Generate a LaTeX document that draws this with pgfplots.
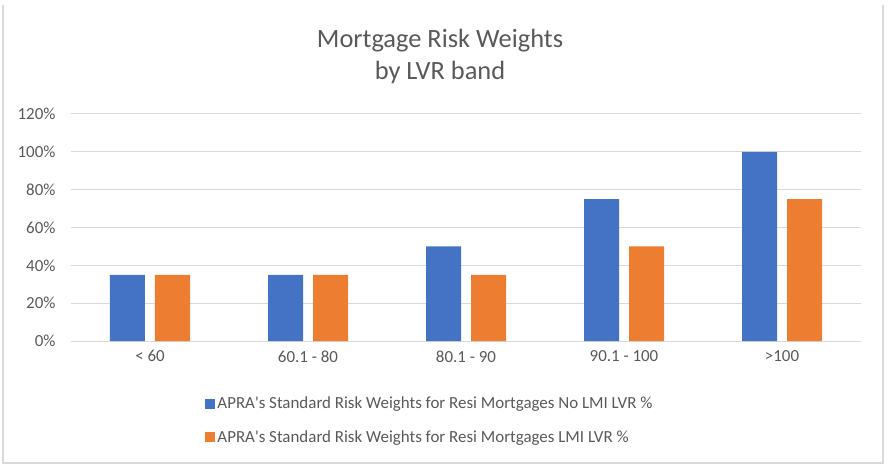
\documentclass[border=0pt]{standalone}
\usepackage{pgfplots}
\pgfplotsset{compat=1.18}
\usepackage{fontspec}
\setmainfont{Carlito}
\definecolor{xlblue}{HTML}{4472C4}
\definecolor{xlorange}{HTML}{ED7D31}
\definecolor{xltext}{HTML}{595959}
\definecolor{xlgrid}{HTML}{D9D9D9}
\begin{document}
\begin{tikzpicture}
\useasboundingbox (-71bp,-128bp) rectangle (821bp,341bp);
% outer chart frame
\draw[xlgrid, line width=1.2bp] (-68bp,336bp) -- (-68bp,-122bp) -- (812bp,-122bp) -- (812bp,336bp);
\begin{axis}[
    at={(0,0)}, anchor=south west,
    scale only axis, width=790bp, height=227bp,
    xmin=-0.5, xmax=4.5, ymin=0, ymax=1.2,
    xtick={0,1,2,3,4},
    xticklabels={< 60, 60.1 - 80, 80.1 - 90, 90.1 - 100, >100},
    ytick={0,0.2,0.4,0.6,0.8,1.0,1.2},
    yticklabels={0\%,20\%,40\%,60\%,80\%,100\%,120\%},
    ymajorgrids, grid style={xlgrid, line width=1bp},
    axis x line*=bottom, axis y line*=left,
    x axis line style={xlgrid, line width=1bp, -},
    y axis line style={draw=none},
    major tick length=0pt,
    tick label style={font=\fontsize{17}{20}\selectfont, text=xltext},
    xticklabel style={yshift=-6bp},
    yticklabel style={xshift=-12bp},
    ybar, bar width=35bp,
    legend style={at={(axis description cs:0.17,-0.238)}, anchor=north west,
        draw=none, fill=none, font=\fontsize{17}{20}\selectfont, text=xltext,
        legend columns=1, row sep=16bp, inner sep=0pt,
        /tikz/every even column/.append style={column sep=0pt}},
    legend cell align=left,
    legend image code/.code={\fill[#1] (0bp,-5bp) rectangle (10bp,5bp);},
]
\addplot[fill=xlblue, draw=none, bar shift=-22.5bp] coordinates {(0,0.35) (1,0.35) (2,0.50) (3,0.75) (4,1.00)};
\addplot[fill=xlorange, draw=none, bar shift=22.5bp] coordinates {(0,0.35) (1,0.35) (2,0.35) (3,0.50) (4,0.75)};
\legend{APRA\textquotesingle s Standard Risk Weights for Resi Mortgages No LMI LVR \%,
        APRA\textquotesingle s Standard Risk Weights for Resi Mortgages LMI LVR \%}
\end{axis}
\node[font=\fontsize{26.5}{33}\selectfont, text=xltext, align=center] at (369bp,284.5bp) {Mortgage Risk Weights\\by LVR band};
\end{tikzpicture}
\end{document}
